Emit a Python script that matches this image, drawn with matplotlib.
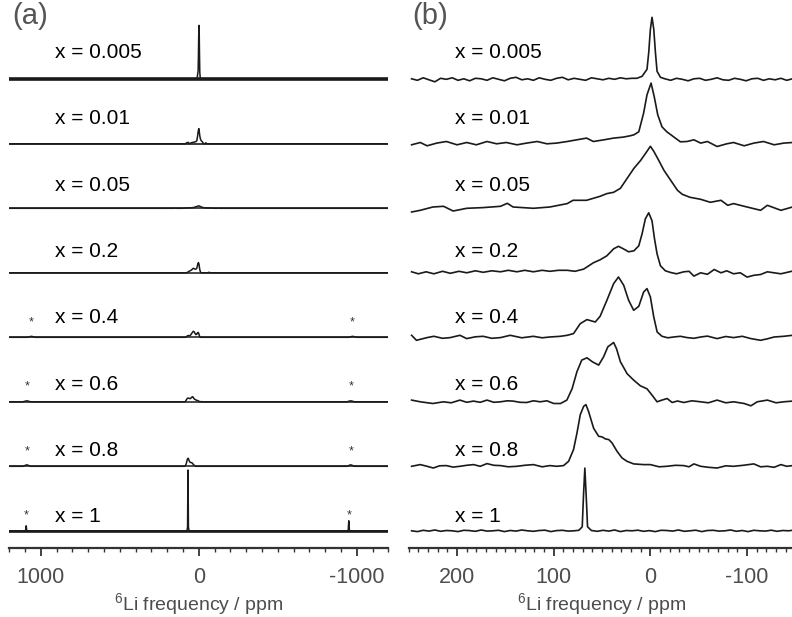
import numpy as np
import matplotlib.pyplot as plt
from matplotlib.ticker import MultipleLocator

plt.rcParams['font.family'] = ['Liberation Sans', 'DejaVu Sans']
plt.rcParams['mathtext.fontset'] = 'custom'
plt.rcParams['mathtext.rm'] = 'Liberation Sans'
plt.rcParams['axes.unicode_minus'] = False

labels = ['x = 0.005', 'x = 0.01', 'x = 0.05', 'x = 0.2',
          'x = 0.4', 'x = 0.6', 'x = 0.8', 'x = 1']

# spectra: shift in ppm, intensity (tallest point ~62)
ppm_0005 = np.concatenate([np.arange(247, 18, -6),
                           [14, 8.6, 3.5, 1.7, 0, -1.7, -3.5, -5.2, -6.9, -10.4],
                           np.arange(-15, -148, -6)])
int_0005 = [0.5, -1, 1.5, -0.5, -2.5, 1, 0, 1.5, -1, 0.5,
            -1.5, 1, 0.5, -1, 1.5, 0, -1.5, 1, 2, -0.5,
            0.5, -1, 1.5, 0, -1, 1, 2, -0.5, 1, 0,
            -1, 1.5, 0.5, -0.5, 1, 0, 1.5, 0.5, 1,
            1, 3, 10, 27, 50, 62, 50, 27, 8, 2,
            0.5, -1, 1, 0, -1.5, 0.5, 1, -1, 0, 1.5, -0.5, -1, 1, 0,
            -1.5, 0.5, 1, -1, 0.5, -0.5, 1, -1, 0.5]

ppm_001 = [247, 238, 231, 221, 211, 200, 190, 180, 169, 159,
           149, 138, 128, 117, 107, 97, 86, 76, 66, 59,
           48, 38, 28, 21, 17, 12, 7, 3.5, -0.7, -4,
           -7.6, -12, -17, -24, -31, -38, -45, -52, -59, -69,
           -79, -86, -97, -107, -117, -128, -138, -147]
int_001 = [-1, 1.3, -2, 0.7, 2.3, -1, 1.3, -1, 2.3, 0,
           1.3, -1, 0.7, 2.3, 0, 0.7, 2.3, 4, 5.7, 2.3,
           4, 5.7, 6.7, 8, 9, 12, 30.7, 49, 60.7, 47,
           29, 17, 12, 7, 2, 2.3, 4, 0.7, 2.3, -2.7,
           0, 1.3, -2, 0.7, 2.3, -1, 0.7, 1.3]

ppm_005 = [247, 238, 225, 214, 204, 190, 173, 155, 148, 142,
           121, 104, 86, 80, 66, 52, 45, 38, 31, 24,
           17, 10, 3.5, 0, -3.5, -8.6, -14, -21, -28, -33,
           -41, -52, -62, -73, -80, -86, -100, -114, -121, -135, -147]
int_005 = [-3.7, -2, 1.3, 2, -2.7, 0, 0.7, 2, 5, 1.3,
           0, 1.3, 4.7, 8, 8, 12, 14.7, 16, 20, 30,
           40, 48, 57, 62, 57, 48, 38, 28, 18, 14,
           11, 9, 6, 8, 3, 4.7, 1.3, -2, 3, -2, 1.3]

ppm_02 = [247, 240, 232, 224, 215, 207, 198, 190, 181, 173,
          164, 155, 147, 138, 130, 121, 112, 104, 95, 86,
          78, 69, 59, 52, 45, 38, 33, 28, 22.5, 17,
          12, 8.6, 5.2, 1.7, -1.7, -4.1, -6.9, -10.4, -15.5, -21,
          -27, -34.5, -40, -45, -52, -59, -66, -73, -79, -86,
          -93, -100, -107, -114, -121, -128, -135, -147]
int_02 = [1, -1, 1, -1, 1.5, -0.5, 1.5, 0, 2, 0.5,
          2, 1, 2.5, 1, 2.5, 1, 2.5, 1.5, 2.5, 2.5,
          1.5, 3.7, 10, 13, 17, 24, 26.5, 24, 21, 22,
          27, 39, 54, 60, 52, 35, 19, 7, 2, 0.3,
          -1, 1, 1.5, -3.3, 0, -1.5, 3.3, 0, 2, -1,
          0, -4.3, -2.5, -1.7, 1, 0, -1, 1.7]

ppm_04 = [247, 242, 231, 224, 215, 207, 197, 190, 181, 173,
          164, 155, 145, 133, 121, 112, 104, 93, 86, 79.5,
          72.5, 65.6, 57, 52, 45, 38, 33, 27.6, 22.5, 17.3,
          12, 7, 3.5, 0, -3.5, -7, -12, -18, -24, -31,
          -38, -45, -52, -59, -69, -78, -86, -95, -104, -114,
          -121, -128, -138, -147]
int_04 = [2, -3, -0.3, 1, -1, -0.3, 2, -1.3, 0.5, 1,
          -1, -0.3, 2, -0.5, 1, -0.5, 0.3, 1, 2, 3.7,
          13.7, 17.7, 15.3, 21, 37, 53.7, 60.3, 52, 37, 27,
          31, 45.3, 48.7, 40.3, 20.3, 5.3, 1, -0.5, 0.3, 1,
          -0.3, -1, 0.3, 1.2, -1.3, 0.8, -0.3, 1, -1.3, -3,
          -1.5, 0.3, 1, 2]

ppm_06 = [247, 238, 225, 214, 206, 197, 190, 183, 176, 169,
          162, 155, 148, 142, 135, 128, 121, 114, 107, 100,
          93, 86.4, 81, 76, 71, 65.6, 60, 53.5, 48.4, 44,
          38, 35, 31, 24, 17.3, 10.4, 3.5, -1.7, -6.9, -12,
          -17.3, -22.5, -28, -34.5, -43, -52, -60, -69, -78, -86,
          -97, -104, -110.5, -121, -130, -138, -147]
int_06 = [1.7, 0, -1.7, 0, -1, 1.7, -0.5, 0.7, -0.5, 1.7,
          -0.5, 0, 1, 0.7, -0.5, -0.7, 1, 0, 1, -1.7,
          -1.7, 1.7, 13, 30, 41.7, 44, 40, 36.7, 45, 55,
          59.3, 53, 40, 28, 21.7, 16, 13, 6.7, 0, 1.7,
          3.3, -0.7, 0.8, -0.7, 1, 0, -1, 1.7, -1, 0,
          -1.7, -4, 0, 1.7, -1, 0, 0.7]

ppm_08 = [247, 238, 231, 224.5, 218, 211, 204, 197, 190, 183,
          176, 169, 162, 155, 147, 138, 130, 121, 112, 104,
          97, 89.8, 84.6, 79.5, 76, 72.5, 69, 66.7, 64, 58.7,
          53.5, 50, 46.6, 43, 39.7, 34.5, 29.4, 24.2, 17.3, 7,
          0, -9, -17, -26, -34.5, -40, -45, -52, -60, -69,
          -78, -86, -96, -107, -114, -121, -128, -135, -141, -147]
int_08 = [0, 1.7, 0, -1.7, 0.5, 0.7, -0.8, 0, 1, 1.7,
          0, 2.7, 1, 0.7, -0.5, 0, 1, 1.7, -0.5, 0.7,
          0, 0.7, 5, 16.7, 33, 51.7, 60, 61.7, 55, 38,
          30, 29.4, 27.4, 26.7, 23.4, 15, 8.4, 5, 2.4, 1.7,
          1.7, -0.5, 0, 1, 0.7, -0.5, 2.4, 0, -1, -1.7,
          0.5, 0, 1, 2.4, -0.5, 0, -1, 1.7, 0, 0.7]

ppm_1 = np.concatenate([np.arange(247, 78, -6),
                        [74, 70.5, 69.2, 67.8, 66.4, 65.0, 61],
                        np.arange(55, -144, -6), [-147]])
int_1 = [0, -0.8, 0.5, -0.3, 0.8, -0.5, 0.3, 0, -0.8, 0.5,
         0.2, -0.5, 0.8, -0.3, 0, 0.5, -0.8, 0.3, -0.3, 0.8,
         0, -0.5, 0.3, 0.6, -0.8, 0.2, 0.5, -0.3, 0,
         0.5, 4, 35, 62.7, 35, 4, 0.3,
         -0.5, 0.5, -0.3, 0.8, -0.8, 0.3, 0, 0.6, -0.5, 0.2,
         -0.8, 0.5, 0.3, -0.3, 0.8, -0.5, 0, 0.6, -0.8, 0.3,
         0.5, -0.3, 0, 0.8, -0.5, 0.3, -0.8, 0.5, 0, -0.3,
         0.6, -0.5, 0.3, 0, 0.5]

ppm_b = [ppm_0005, ppm_001, ppm_005, ppm_02, ppm_04, ppm_06, ppm_08, ppm_1]
int_b = [int_0005, int_001, int_005, int_02, int_04, int_06, int_08, int_1]

# panel (a): same spectra over the full window, relative heights
scale_a = [0.87, 0.25, 0.04, 0.17, 0.1, 0.085, 0.13, 0.97]
# noise thickness of the panel (a) baselines (points)
noise_a = [2.6, 1.2, 1.1, 1.1, 1.1, 1.1, 1.1, 1.9]
# spinning sidebands (*) in panel (a): position (ppm), height, half width
sb_pos = [[], [], [], [], [1059, -974], [1088, -962], [1088, -962], [1092, -950]]
sb_h = [[], [], [], [], [1, 1], [1, 1], [1.5, 1.5], [5, 10]]
sb_w = [0, 0, 0, 0, 25, 25, 25, 4]

# layout, in pixel-like units of the 548 px tall plotting area
spacing = 64.5
base0 = 468.7
label0 = 495.5
label_step = 66.3

ink = '#1a1a1a'
grey = '#4d4d4d'

fig = plt.figure(figsize=(7.92, 6.17), dpi=100)
ax_a = fig.add_axes([9.1 / 792, 1 - 548 / 617, 379.2 / 792, 548 / 617])
ax_b = fig.add_axes([408.7 / 792, 1 - 548 / 617, 386.7 / 792, 548 / 617])

for i in range(8):
    base = base0 - spacing * i
    p = np.asarray(ppm_b[i], dtype=float)
    v = np.asarray(int_b[i], dtype=float)
    # panel (b)
    ax_b.plot(p, base + v, color=ink, lw=1.2, solid_joinstyle='round')
    # panel (a): only the resonance itself shows at this scale
    va = np.where(v >= 3, v, 0.0) * scale_a[i]
    xs = [1210.0] + list(p) + [-1210.0]
    ys = [0.0] + list(va) + [0.0]
    for c, h in zip(sb_pos[i], sb_h[i]):
        xs += [c + sb_w[i], c, c - sb_w[i]]
        ys += [0, h, 0]
    xs = np.asarray(xs)
    ys = np.asarray(ys)
    order = np.argsort(-xs)
    ax_a.plot(xs[order], base + ys[order], color=ink, lw=1.1, solid_joinstyle='round')
    # baseline noise band, drawn as a thicker flat stroke under the trace
    ax_a.plot(xs[order], base + 0 * ys[order], color=ink, lw=noise_a[i])
    for c in sb_pos[i]:
        ax_a.text(c, base + 15, '*', fontsize=9, ha='center', va='center', color='#333333')

    ly = label0 - label_step * i
    for ax in (ax_a, ax_b):
        ax.text(0.121, ly, labels[i], transform=ax.get_yaxis_transform(),
                fontsize=15, ha='left', va='center', color='black')

for ax, lim, major, minor, letter in ((ax_a, (1200, -1200), 1000, 100, '(a)'),
                                      (ax_b, (250, -150), 100, 10, '(b)')):
    ax.set_xlim(*lim)
    ax.set_ylim(0, 548)
    for s in ('top', 'left', 'right'):
        ax.spines[s].set_visible(False)
    ax.spines['bottom'].set_color('#333333')
    ax.spines['bottom'].set_linewidth(1.6)
    ax.set_yticks([])
    ax.xaxis.set_major_locator(MultipleLocator(major))
    ax.xaxis.set_minor_locator(MultipleLocator(minor))
    ax.tick_params(axis='x', which='major', direction='out', length=6, width=1.3,
                   color='#333333', labelsize=15.5, labelcolor=grey, pad=8)
    ax.tick_params(axis='x', which='minor', direction='out', length=3.2, width=1.0,
                   color='#333333')
    ax.set_xlabel(r'$^{6}$Li frequency / ppm', fontsize=14, color=grey, labelpad=2)
    ax.text(0.008, 0.997, letter, transform=ax.transAxes, fontsize=21,
            ha='left', va='top', color='#555555')
    ax.patch.set_visible(False)

fig.savefig('out.png', dpi=100)
